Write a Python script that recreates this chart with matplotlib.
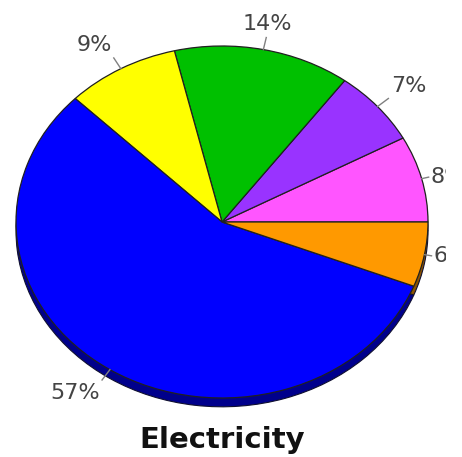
import numpy as np
import matplotlib.pyplot as plt
from matplotlib.colors import to_rgb

# share of electricity by source, counter-clockwise from 3 o'clock
values = [8, 7, 14, 9, 57, 6]
labels = ["8%", "7%", "14%", "9%", "57%", "6%"]
colors = ["#ff55ff", "#9933ff", "#00c000", "#ffff00", "#0000ff", "#ff9900"]
title = "Electricity"

fig = plt.figure(figsize=(4.62, 4.57), dpi=100)
# axes stops a little short of the right edge so the outer labels get cut
ax = fig.add_axes([0, 0, 446 / 462, 1])

# darker copy slightly lower gives the pie some thickness
dark = [tuple(c * 0.55 for c in to_rgb(col)) for col in colors]
ax.pie(values, colors=dark, startangle=0, counterclock=True,
       center=(0, -0.05), wedgeprops=dict(edgecolor="#101030", linewidth=0.8))
wedges, _ = ax.pie(values, colors=colors, startangle=0, counterclock=True,
                   wedgeprops=dict(edgecolor="#202020", linewidth=0.9))

# stretch into an ellipse: 1 unit = 206 px across, 176 px up
ax.set_aspect("auto")
ax.set_xlim(-222 / 206, (446 - 222) / 206)
ax.set_ylim(-235 / 176, (457 - 235) / 176)
ax.axis("off")

for w, lab in zip(wedges, labels):
    ang = np.deg2rad((w.theta1 + w.theta2) / 2)
    cx, cy = np.cos(ang), np.sin(ang)
    side = abs(cy) < 0.3
    r_line, r_text = (1.035, 1.045) if side else (1.07, 1.09)
    ax.plot([cx, cx * r_line], [cy, cy * r_line], color="#808080", lw=1)
    ha = "left" if cx > 0.3 else ("right" if cx < -0.3 else "center")
    va = "bottom" if cy > 0.3 else ("top" if cy < -0.3 else "center")
    ax.text(cx * r_text, cy * r_text, lab, ha=ha, va=va, fontsize=16,
            color="#444444", clip_on=True)

fig.text(222 / 462, 1 - 448 / 457, title, ha="center", va="baseline",
         fontsize=21, fontweight="bold", color="#111111")

fig.savefig("out.png", dpi=100)
